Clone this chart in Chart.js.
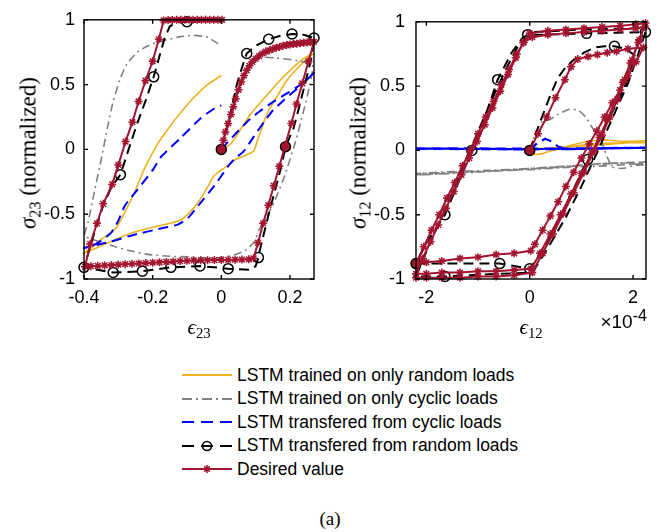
<!DOCTYPE html>
<html>
<head>
<meta charset="utf-8">
<title>LSTM hysteresis loops</title>
<script src="https://cdn.jsdelivr.net/npm/chart.js@4.4.1/dist/chart.umd.min.js"></script>
<style>
  html, body { margin: 0; padding: 0; background: #fff; }
  body { position: relative; width: 660px; height: 532px; overflow: hidden; font-family: "Liberation Sans", Arial, sans-serif; color: #000; }
  .panel { position: absolute; top: 0; width: 330px; height: 340px; }
  .serif { position: absolute; font-family: "Liberation Serif", "DejaVu Serif", serif; font-size: 23px; white-space: nowrap; line-height: 1; }
  .serif sub { font-size: 0.7em; vertical-align: -0.3em; line-height: 0; }
  .ylab { transform: translate(-50%, -50%) rotate(-90deg); }
  .xlab { transform: translate(-50%, -50%); }
  .expo { position: absolute; right: 13px; top: 311px; font-size: 19px; }
  .expo sup { font-size: 0.85em; vertical-align: 0.45em; line-height: 0; }
  .row { position: absolute; left: 182px; height: 24px; display: flex; align-items: center; font-size: 17.5px; white-space: nowrap; }
  .row svg { margin-right: 4px; }
</style>
</head>
<body>
<div class="panel" style="left:0"><canvas id="left" width="330" height="340"></canvas></div>
<div class="panel" style="left:330px"><canvas id="right" width="330" height="340"></canvas></div>

<div class="serif ylab" style="left:28px; top:153px"><i>σ</i><sub>23</sub> (normalized)</div>
<div class="serif ylab" style="left:358px; top:153px"><i>σ</i><sub>12</sub> (normalized)</div>
<div class="serif xlab" style="left:199px; top:327px; font-size:21px"><i>ϵ</i><sub>23</sub></div>
<div class="serif xlab" style="left:531px; top:327px; font-size:21px"><i>ϵ</i><sub>12</sub></div>
<div class="expo">×10<sup>-4</sup></div>

<div id="legend"></div>
<div class="serif xlab" style="left:330px; top:518px; font-size:19px">(a)</div>

<script>
// ─── DATA ───────────────────────────────────────────────────
// left panel: eps23 vs sigma23, each entry is [strain, normalized stress]
const leftRandomOnly = [
  [0,0],[0.015,0.02],[0.03,0.05],[0.055,0.15],[0.082,0.26],[0.11,0.35],[0.14,0.44],[0.17,0.53],[0.2,0.61],[0.225,0.67],[0.245,0.71],[0.268,0.74],
  [0.25,0.7],[0.22,0.62],[0.19,0.53],[0.165,0.42],[0.14,0.31],[0.125,0.22],[0.115,0.14],[0.104,0.06],[0.094,-0.015],[0.07,-0.045],[0.04,-0.08],
  [0.01,-0.14],[-0.02,-0.2],[-0.04,-0.29],[-0.065,-0.4],[-0.09,-0.48],[-0.118,-0.545],[-0.157,-0.575],[-0.215,-0.61],[-0.255,-0.64],
  [-0.294,-0.68],[-0.33,-0.72],[-0.363,-0.76],[-0.4,-0.8],
  [-0.38,-0.76],[-0.353,-0.7],[-0.33,-0.66],[-0.305,-0.6],[-0.28,-0.48],[-0.256,-0.35],[-0.24,-0.25],[-0.226,-0.16],[-0.205,-0.05],
  [-0.185,0.045],[-0.16,0.14],[-0.138,0.22],[-0.11,0.31],[-0.08,0.4],[-0.04,0.5],[0,0.57]
];
const leftCyclicOnly = [
  [0,0],[0.02,0.2],[0.04,0.4],[0.06,0.55],[0.085,0.66],[0.11,0.71],[0.16,0.705],[0.22,0.685],[0.265,0.65],
  [0.258,0.5],[0.24,0.3],[0.215,0.05],[0.185,-0.2],[0.155,-0.4],[0.128,-0.54],[0.11,-0.62],[0.097,-0.71],[0.07,-0.78],[0.03,-0.82],
  [-0.02,-0.84],[-0.09,-0.83],[-0.15,-0.825],[-0.215,-0.81],[-0.27,-0.78],[-0.323,-0.74],[-0.37,-0.7],[-0.398,-0.67],
  [-0.395,-0.62],[-0.388,-0.56],[-0.37,-0.33],[-0.35,-0.08],[-0.333,0.15],[-0.315,0.37],[-0.295,0.54],[-0.275,0.66],[-0.24,0.76],
  [-0.2,0.815],[-0.16,0.845],[-0.118,0.87],[-0.08,0.88],[-0.04,0.865],[0,0.8]
];
const leftFromCyclic = [
  [0,0],[0.02,0.06],[0.045,0.13],[0.074,0.21],[0.11,0.29],[0.153,0.37],[0.19,0.43],[0.22,0.48],[0.25,0.54],[0.27,0.59],
  [0.23,0.49],[0.182,0.38],[0.15,0.3],[0.124,0.21],[0.095,0.1],[0.065,-0.015],[0.04,-0.07],[0.02,-0.13],[-0.02,-0.28],[-0.06,-0.41],
  [-0.097,-0.53],[-0.127,-0.58],[-0.176,-0.61],[-0.256,-0.66],[-0.32,-0.71],[-0.36,-0.735],[-0.4,-0.76],
  [-0.38,-0.75],[-0.353,-0.71],[-0.32,-0.64],[-0.3,-0.55],[-0.28,-0.43],[-0.244,-0.31],[-0.2,-0.16],[-0.176,-0.06],[-0.118,0.09],
  [-0.06,0.24],[-0.024,0.31],[0,0.34]
];
const leftFromRandom = [
  [0,0],[0.015,0.15],[0.03,0.32],[0.045,0.5],[0.06,0.63],[0.074,0.74],[0.1,0.8],[0.138,0.85],[0.17,0.875],[0.206,0.89],[0.24,0.885],[0.27,0.86],
  [0.262,0.7],[0.245,0.52],[0.228,0.34],[0.21,0.16],[0.187,0.02],[0.172,-0.16],[0.155,-0.33],[0.138,-0.5],[0.123,-0.66],[0.112,-0.78],
  [0.108,-0.835],[0.1,-0.9],[0.085,-0.93],[0.02,-0.92],[-0.062,-0.9],[-0.147,-0.91],[-0.23,-0.94],[-0.315,-0.95],[-0.4,-0.91],
  [-0.385,-0.78],[-0.365,-0.6],[-0.345,-0.44],[-0.32,-0.29],[-0.294,-0.195],[-0.27,0.0],[-0.245,0.2],[-0.22,0.38],[-0.197,0.56],
  [-0.18,0.72],[-0.165,0.86],[-0.15,0.95],[-0.13,0.98],[-0.1,0.985],[-0.05,0.99],[0,0.99]
];
const leftFromRandomMarks = [
  [0,0],[0.074,0.74],[0.138,0.85],[0.206,0.89],[0.27,0.86],[0.187,0.02],[0.108,-0.835],[0.02,-0.92],[-0.062,-0.9],
  [-0.147,-0.91],[-0.23,-0.94],[-0.315,-0.95],[-0.4,-0.91],[-0.294,-0.195],[-0.197,0.56],[-0.1,0.985]
];
const leftDesired = [
  [0,0],[0.006,0.07],[0.012,0.135],[0.02,0.2],[0.028,0.27],[0.035,0.33],[0.042,0.39],[0.05,0.46],[0.058,0.52],[0.066,0.57],
  [0.074,0.61],[0.082,0.645],[0.09,0.675],[0.1,0.7],[0.11,0.72],[0.12,0.74],[0.13,0.755],[0.14,0.765],[0.15,0.775],[0.16,0.785],
  [0.17,0.79],[0.18,0.8],[0.19,0.805],[0.2,0.81],[0.21,0.813],[0.22,0.816],[0.23,0.82],[0.24,0.822],[0.25,0.825],[0.26,0.828],[0.27,0.83],
  [0.254,0.68],[0.236,0.51],[0.219,0.35],[0.204,0.2],[0.186,0.03],[0.169,-0.13],[0.153,-0.28],[0.137,-0.43],[0.122,-0.57],[0.107,-0.72],[0.094,-0.84],
  [0.08,-0.848],[0.06,-0.85],[0.04,-0.851],[0.02,-0.852],[0,-0.853],[-0.02,-0.854],[-0.04,-0.855],[-0.06,-0.856],[-0.08,-0.857],[-0.1,-0.86],
  [-0.12,-0.862],[-0.14,-0.865],[-0.16,-0.868],[-0.18,-0.871],[-0.2,-0.874],[-0.22,-0.877],[-0.24,-0.88],[-0.26,-0.883],[-0.28,-0.886],
  [-0.3,-0.889],[-0.32,-0.892],[-0.34,-0.895],[-0.36,-0.898],[-0.38,-0.901],[-0.397,-0.905],
  [-0.382,-0.73],[-0.362,-0.57],[-0.344,-0.42],[-0.318,-0.27],[-0.3,-0.12],[-0.279,0.06],[-0.259,0.21],[-0.241,0.37],[-0.221,0.53],
  [-0.2,0.68],[-0.182,0.85],[-0.168,0.995],
  [-0.155,0.998],[-0.143,0.999],[-0.13,1],[-0.118,1],[-0.106,1],[-0.094,1],[-0.082,1],[-0.07,1],[-0.058,1],[-0.046,1],
  [-0.034,1],[-0.022,1],[-0.01,1],[0.002,1]
];

// right panel: eps12 (x1e-4) vs sigma12
const rightRandomOnly = [
  [0,0],[0.1,-0.03],[0.25,-0.025],[0.4,-0.005],[0.6,0.015],[0.8,0.04],[1.0,0.06],[1.2,0.075],[1.5,0.08],[1.8,0.07],[2.24,0.075],
  [1.6,0.05],[1.0,0.035],[0.5,0.02],[0,0.01],[-1.0,0.01],[-2.2,0.012],
  [-1.0,0.012],[0,0.012],[0.8,0.03],[1.3,0.055],[1.8,0.06],[2.24,0.06]
];
const rightCyclicOnly = [
  [0,0],[0.1,0.12],[0.23,0.22],[0.39,0.24],[0.55,0.28],[0.77,0.32],[0.95,0.31],[1.1,0.25],[1.25,0.15],[1.38,0.08],[1.45,0.0],
  [1.52,-0.07],[1.6,-0.13],[1.8,-0.14],[2.0,-0.12],[2.24,-0.11],
  [1.5,-0.1],[0.8,-0.12],[0,-0.14],[-0.8,-0.16],[-1.5,-0.17],[-2.2,-0.18],
  [-1.5,-0.165],[-0.8,-0.155],[0,-0.14],[0.8,-0.12],[1.5,-0.1],[2.24,-0.09],
  [1.5,-0.105],[0.8,-0.125],[0,-0.145],[-0.8,-0.165],[-1.5,-0.18],[-2.2,-0.19],
  [-1.5,-0.175],[-0.8,-0.16],[0,-0.15],[0.8,-0.13],[1.5,-0.12],[2.24,-0.1]
];
const rightFromCyclic = [
  [0,0],[0.15,0.06],[0.3,0.09],[0.42,0.07],[0.55,0.03],[0.7,0.01],[1.0,0.012],[1.5,0.018],[2.24,0.02],
  [1.2,0.015],[0,0.01],[-1.2,0.012],[-2.2,0.015],
  [-1.2,0.016],[0,0.013],[1.2,0.016],[2.24,0.022],
  [1.2,0.012],[0,0.008],[-1.2,0.01],[-2.2,0.012]
];
const rightFromRandom = [
  [0,0],[0.2,0.22],[0.4,0.43],[0.54,0.56],[0.7,0.65],[0.87,0.71],[1.05,0.76],[1.26,0.8],[1.45,0.81],[1.64,0.81],[1.85,0.79],[2.03,0.74],
  [1.95,0.62],[1.84,0.5],[1.6,0.3],[1.35,0.1],[1.12,-0.07],[0.85,-0.3],[0.55,-0.55],[0.25,-0.78],[0,-0.92],
  [-0.58,-0.88],[-1.2,-0.88],[-2.2,-0.88],
  [-2.0,-0.72],[-1.64,-0.5],[-1.4,-0.27],[-1.12,0.0],[-0.85,0.28],[-0.62,0.55],[-0.35,0.76],[-0.15,0.87],[-0.04,0.9],
  [0.3,0.9],[1.1,0.91],[1.7,0.915],[2.24,0.92],
  [2.1,0.75],[1.9,0.52],[1.6,0.25],[1.3,-0.02],[1.0,-0.28],[0.7,-0.52],[0.35,-0.76],[0.05,-0.95],
  [-0.6,-0.96],[-1.64,-0.98],[-2.2,-0.98],
  [-1.95,-0.74],[-1.65,-0.47],[-1.35,-0.19],[-1.05,0.1],[-0.75,0.38],[-0.45,0.64],[-0.2,0.83],[0.1,0.92],[1.0,0.94],[2.24,0.95]
];
const rightFromRandomMarks = [
  [0,0],[1.64,0.81],[1.12,-0.07],[0,-0.92],[-0.58,-0.88],[-2.2,-0.88],[-1.64,-0.5],[-1.12,0.0],[-0.62,0.55],
  [-0.04,0.9],[1.1,0.91],[2.24,0.92],[-1.64,-0.98]
];
const rightDesired = [
  [0,0],[0.16,0.13],[0.33,0.26],[0.5,0.41],[0.68,0.55],[0.8,0.65],[0.93,0.71],[1.13,0.73],[1.31,0.745],[1.5,0.76],[1.68,0.77],[1.9,0.79],[2.2,0.8],
  [2.06,0.69],[1.9,0.58],[1.75,0.47],[1.6,0.37],[1.45,0.26],[1.3,0.15],[1.15,0.05],[1.0,-0.06],[0.85,-0.17],[0.7,-0.28],[0.55,-0.4],
  [0.4,-0.51],[0.25,-0.62],[0.1,-0.73],[0.02,-0.78],
  [-0.3,-0.8],[-0.65,-0.81],[-1.0,-0.83],[-1.35,-0.84],[-1.7,-0.86],[-2.0,-0.87],[-2.2,-0.88],
  [-2.05,-0.75],[-1.9,-0.62],[-1.75,-0.5],[-1.6,-0.37],[-1.45,-0.25],[-1.3,-0.12],[-1.15,0.0],[-1.0,0.13],[-0.85,0.26],[-0.7,0.38],
  [-0.55,0.51],[-0.4,0.63],[-0.25,0.75],[-0.12,0.84],[0.05,0.88],
  [0.35,0.9],[0.7,0.91],[1.05,0.92],[1.4,0.93],[1.75,0.94],[2.05,0.95],[2.22,0.96],
  [2.1,0.84],[1.95,0.68],[1.8,0.53],[1.65,0.38],[1.5,0.24],[1.35,0.1],[1.2,-0.02],[1.0,-0.18],[0.8,-0.34],[0.6,-0.5],[0.4,-0.65],
  [0.2,-0.8],[0.03,-0.92],
  [-0.3,-0.93],[-0.65,-0.94],[-1.0,-0.94],[-1.35,-0.95],[-1.7,-0.95],[-2.0,-0.96],[-2.2,-0.96],
  [-2.07,-0.84],[-1.92,-0.71],[-1.77,-0.58],[-1.62,-0.45],[-1.47,-0.32],[-1.32,-0.19],[-1.17,-0.06],[-1.02,0.07],[-0.87,0.2],
  [-0.72,0.33],[-0.57,0.46],[-0.42,0.59],[-0.27,0.72],[-0.12,0.84],[0.0,0.91],
  [0.35,0.93],[0.7,0.94],[1.05,0.95],[1.4,0.96],[1.75,0.97],[2.05,0.98],[2.24,0.99],
  [2.12,0.86],[1.98,0.7],[1.84,0.55],[1.7,0.4],[1.55,0.26],[1.4,0.12],[1.25,0.0],[1.05,-0.17],[0.85,-0.33],[0.65,-0.49],
  [0.45,-0.65],[0.25,-0.8],[0.05,-0.95],
  [-0.3,-0.97],[-0.65,-0.98],[-1.0,-0.98],[-1.35,-0.99],[-1.7,-0.99],[-2.0,-0.99],[-2.2,-0.99]
];

// axes
const stressTicks = [-1, -0.5, 0, 0.5, 1];
const leftStrainTicks = [-0.4, -0.2, 0, 0.2];
const rightStrainTicks = [-2, 0, 2];

const legendLabels = [
  'LSTM trained on only random loads',
  'LSTM trained on only cyclic loads',
  'LSTM transfered from cyclic loads',
  'LSTM transfered from random loads',
  'Desired value'
];

// ─── STYLES ────────────────────────────────────────────────
const ORANGE = '#EDB120';
const GRAY   = '#808080';
const BLUE   = '#0000FF';
const BLACK  = '#000000';
const RED    = '#A2142F';
const TICK_FONT = { family: 'Liberation Sans', size: 18 };

const pts = list => list.map(([x, y]) => ({ x, y }));

function curve(list, color, width, dash, tension) {
  return {
    data: pts(list), showLine: true, borderColor: color, borderWidth: width,
    borderDash: dash || [], tension: tension || 0, pointRadius: 0, pointHoverRadius: 0, clip: 8,
  };
}

// open circles; where a start/turn point sits under the red stars the circle reads as filled
function marks(list, filled) {
  return {
    data: pts(list), showLine: false, pointStyle: 'circle', pointRadius: 5, pointHoverRadius: 5,
    pointBorderColor: BLACK, pointBorderWidth: 1.5, clip: 10,
    pointBackgroundColor: list.map((_, i) => filled.includes(i) ? RED : 'rgba(0,0,0,0)'),
  };
}

function desired(list) {
  return Object.assign(curve(list, RED, 2), {
    pointStyle: 'star', pointRadius: 4, pointHoverRadius: 4,
    pointBorderColor: RED, pointBackgroundColor: RED, pointBorderWidth: 1.5, clip: 10,
  });
}

// box round the plot area with MATLAB-style inward ticks
const boxTicks = {
  id: 'boxTicks',
  afterDatasetsDraw(chart) {
    const { ctx, chartArea: a, scales: { x, y } } = chart;
    ctx.save();
    ctx.strokeStyle = '#000';
    ctx.lineWidth = 1.4;
    ctx.strokeRect(a.left, a.top, a.right - a.left, a.bottom - a.top);
    ctx.beginPath();
    x.ticks.forEach(t => {
      const px = x.getPixelForValue(t.value);
      ctx.moveTo(px, a.bottom); ctx.lineTo(px, a.bottom - 4);
      ctx.moveTo(px, a.top);    ctx.lineTo(px, a.top + 4);
    });
    y.ticks.forEach(t => {
      const py = y.getPixelForValue(t.value);
      ctx.moveTo(a.left, py);  ctx.lineTo(a.left + 4, py);
      ctx.moveTo(a.right, py); ctx.lineTo(a.right - 4, py);
    });
    ctx.stroke();
    ctx.restore();
  }
};

function panel(id, cfg) {
  return new Chart(document.getElementById(id), {
    type: 'scatter',
    data: { datasets: cfg.datasets },
    options: {
      responsive: false,
      animation: false,
      devicePixelRatio: 1,
      layout: { padding: { left: 0, top: 13, right: cfg.padRight, bottom: 0 } },
      plugins: { legend: { display: false }, tooltip: { enabled: false } },
      scales: {
        x: {
          type: 'linear', min: cfg.xMin, max: cfg.xMax,
          afterBuildTicks: s => { s.ticks = cfg.xTicks.map(v => ({ value: v })); },
          afterFit: s => { s.height = 61; },
          grid: { display: false, drawTicks: false },
          border: { display: false },
          ticks: { padding: 8, color: '#000', font: TICK_FONT, maxRotation: 0, autoSkip: false, callback: v => String(v) },
        },
        y: {
          type: 'linear', min: -1, max: 1,
          afterBuildTicks: s => { s.ticks = stressTicks.map(v => ({ value: v })); },
          afterFit: s => { s.width = cfg.yWidth; },
          grid: { display: false, drawTicks: false },
          border: { display: false },
          ticks: { padding: cfg.yPad, color: '#000', font: TICK_FONT, autoSkip: false, callback: v => String(v) },
        },
      },
    },
    plugins: [boxTicks],
  });
}

// lower dataset index is drawn on top, so desired value goes first
panel('left', {
  xMin: -0.4, xMax: 0.27, xTicks: leftStrainTicks, yWidth: 84, yPad: 9, padRight: 16,
  datasets: [
    desired(leftDesired),
    marks(leftFromRandomMarks, [0, 5]),
    curve(leftFromRandom, BLACK, 2, [10, 6]),
    curve(leftFromCyclic, BLUE, 2, [10, 6], 0.2),
    curve(leftCyclicOnly, GRAY, 1.6, [8, 4, 2, 4], 0.2),
    curve(leftRandomOnly, ORANGE, 1.6, [], 0.2),
  ],
});

panel('right', {
  xMin: -2.2, xMax: 2.25, xTicks: rightStrainTicks, yWidth: 86, yPad: 11, padRight: 14,
  datasets: [
    desired(rightDesired),
    marks(rightFromRandomMarks, [0, 5]),
    curve(rightFromRandom, BLACK, 2, [10, 6]),
    curve(rightFromCyclic, BLUE, 2.2, [10, 6]),
    curve(rightCyclicOnly, GRAY, 1.6, [8, 4, 2, 4], 0.2),
    curve(rightRandomOnly, ORANGE, 1.6, [], 0.2),
  ],
});

// ─── LEGEND ────────────────────────────────────────────────
const samples = [
  `<line x1="0" y1="6" x2="50" y2="6" stroke="${ORANGE}" stroke-width="2"/>`,
  `<line x1="0" y1="6" x2="50" y2="6" stroke="${GRAY}" stroke-width="2" stroke-dasharray="10,4,2,4"/>`,
  `<line x1="0" y1="6" x2="50" y2="6" stroke="${BLUE}" stroke-width="2" stroke-dasharray="12,7"/>`,
  `<line x1="0" y1="6" x2="50" y2="6" stroke="${BLACK}" stroke-width="2" stroke-dasharray="12,7"/>
   <circle cx="25" cy="6" r="4.5" fill="none" stroke="${BLACK}" stroke-width="1.6"/>`,
  `<line x1="0" y1="6" x2="50" y2="6" stroke="${RED}" stroke-width="2"/>
   <path d="M21,6h8M25,2v8M22.2,3.2l5.6,5.6M22.2,8.8l5.6,-5.6" stroke="${RED}" stroke-width="1.6"/>`,
];
const legendTops = [363, 386.5, 410, 433.5, 457];
document.getElementById('legend').innerHTML = legendLabels.map((label, i) => `
  <div class="row" style="top:${legendTops[i]}px">
    <svg width="51" height="12">${samples[i]}</svg><span>${label}</span>
  </div>`).join('');
</script>
</body>
</html>
